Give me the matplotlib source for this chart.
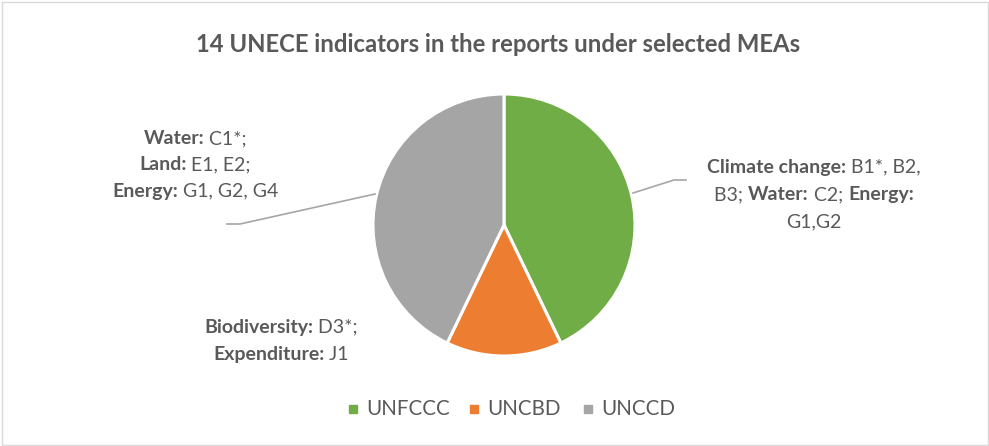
import matplotlib
matplotlib.use("Agg")
import matplotlib.pyplot as plt
from matplotlib.patches import Rectangle

categories = ["UNFCCC", "UNCBD", "UNCCD"]
values = [6, 2, 6]
colors = ["#70AD47", "#ED7D31", "#A5A5A5"]
title = "14 UNECE indicators in the reports under selected MEAs"

label_right = [[("Climate change:", True), (" B1*, B2,", False)],
               [("B3; ", False), ("Water:", True), (" C2; ", False), ("Energy:", True)],
               [("G1,G2", False)]]
label_bottom = [[("Biodiversity:", True), (" D3*;", False)],
                [("Expenditure:", True), (" J1", False)]]
label_left = [[("Water:", True), (" C1*;", False)],
              [("Land:", True), (" E1, E2;", False)],
              [("Energy:", True), (" G1, G2, G4", False)]]

FONT = "Lato"
TXT = "#595959"
W, H = 989, 446
fig = plt.figure(figsize=(W / 100, H / 100), dpi=100)
ax = fig.add_axes([0, 0, 1, 1])


def Y(py):
    return H - py


wedges, _ = ax.pie(values, colors=colors, startangle=90, counterclock=False,
                   center=(504, Y(225)), radius=131,
                   wedgeprops=dict(edgecolor="white", linewidth=2.2))
ax.set_xlim(0, W)
ax.set_ylim(0, H)
ax.set_aspect("equal")
ax.axis("off")

ax.add_patch(Rectangle((1.5, 1.5), W - 3, H - 3, fill=False, edgecolor="#D9D9D9", lw=1))

ax.text(498, Y(45), title, ha="center", va="center", fontsize=17.2, fontweight="bold",
        color=TXT, family=FONT)

fig.canvas.draw()
renderer = fig.canvas.get_renderer()


def rich_line(x, y, segs, size=14.0):
    widths = []
    for s, b in segs:
        t = ax.text(0, 0, s, fontsize=size, fontweight="bold" if b else "normal", family=FONT)
        bb = t.get_window_extent(renderer)
        widths.append(bb.width)
        t.remove()
    total = sum(widths)
    cx = x - total / 2
    for (s, b), w in zip(segs, widths):
        ax.text(cx, Y(y), s, fontsize=size, fontweight="bold" if b else "normal", family=FONT,
                color=TXT, ha="left", va="center")
        cx += w


for i, ln in enumerate(label_right):
    rich_line(814, 167 + i * 27.5, ln)
for i, ln in enumerate(label_bottom):
    rich_line(281, 327 + i * 27.5, ln)
for i, ln in enumerate(label_left):
    rich_line(195, 139 + i * 26, ln)

ax.plot([633, 674, 686], [Y(193), Y(180), Y(180)], color="#A6A6A6", lw=1.2)
ax.plot([375, 240, 227], [Y(194), Y(224), Y(224)], color="#A6A6A6", lw=1.2)

leg_x = [353, 474, 588]
for i, (c, name) in enumerate(zip(colors, categories)):
    ax.add_patch(Rectangle((leg_x[i] - 4, Y(409) - 4), 8, 8, color=c))
    ax.text(leg_x[i] + 13, Y(409), name, fontsize=14.8, color=TXT, family=FONT,
            ha="left", va="center")

fig.savefig("out.png", dpi=100)
